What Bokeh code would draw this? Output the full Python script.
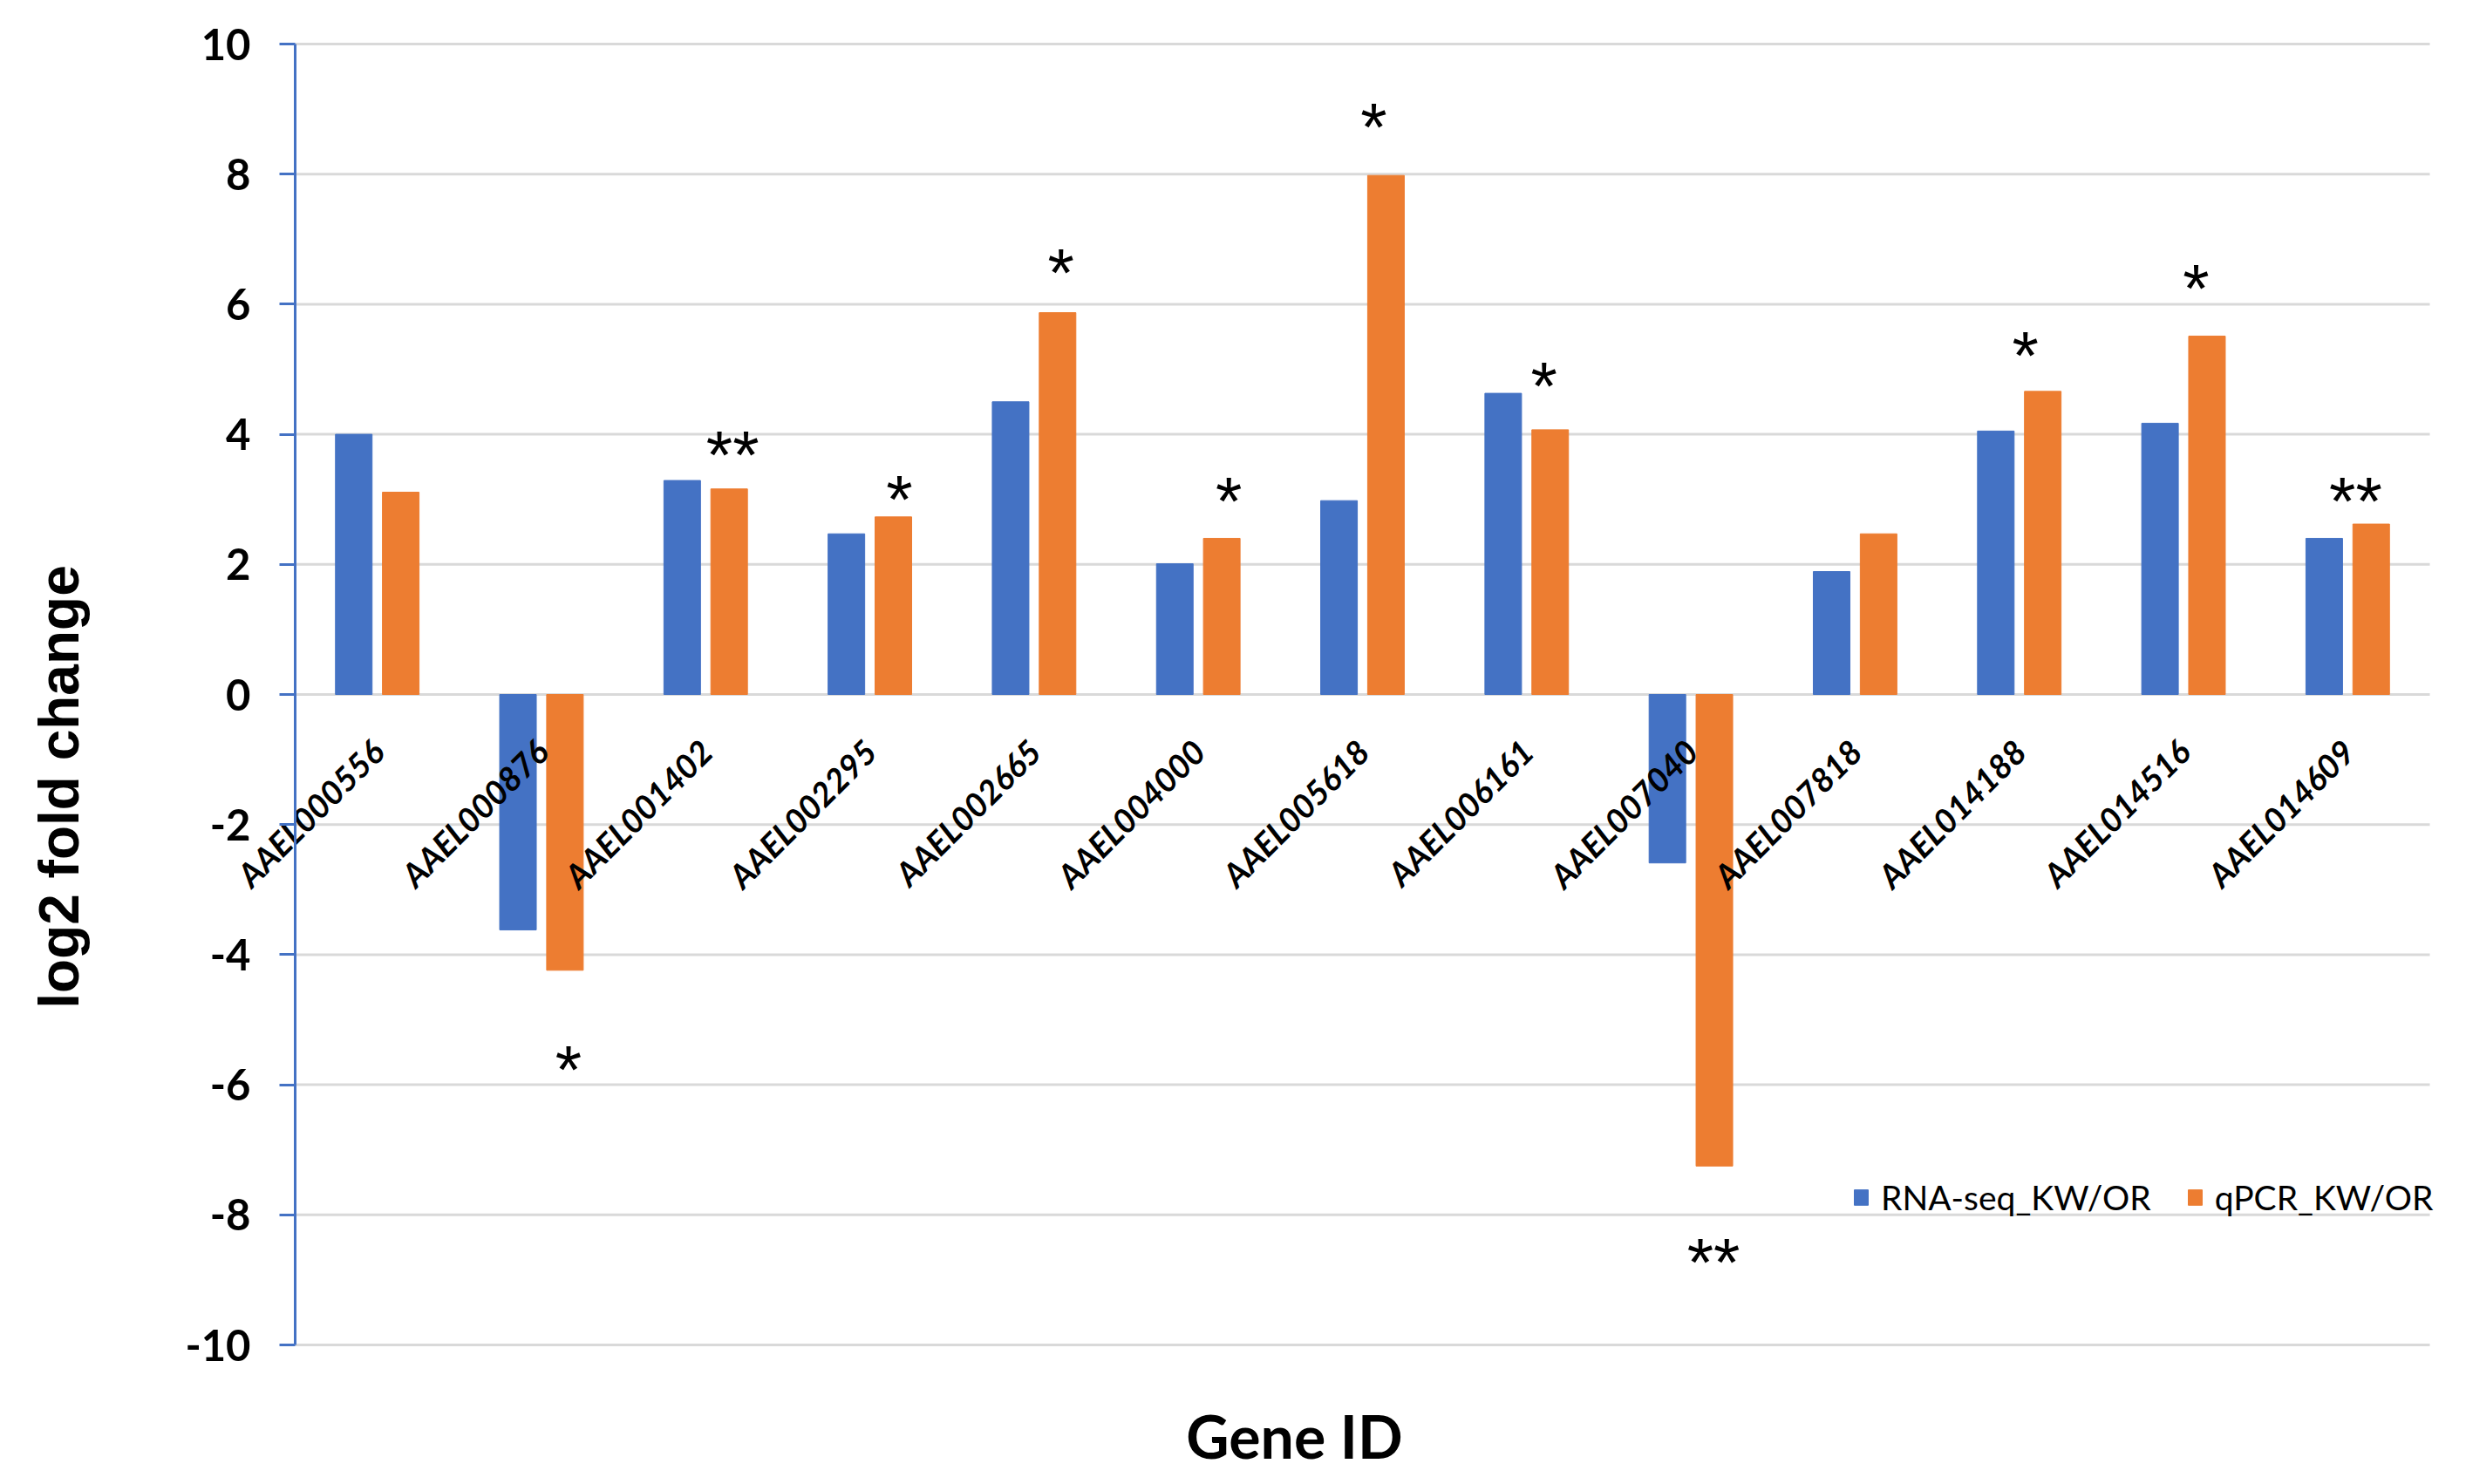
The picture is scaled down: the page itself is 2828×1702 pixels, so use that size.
import math
from bokeh.plotting import figure
from bokeh.models import (ColumnDataSource, FixedTicker, Legend, LegendItem, Label,
                          Range1d, LinearAxis)
from bokeh.transform import dodge
from bokeh.core.properties import value
from bokeh.embed import file_html
from bokeh.resources import INLINE

# ---------------- data ----------------
genes = ["AAEL000556", "AAEL000876", "AAEL001402", "AAEL002295", "AAEL002665",
         "AAEL004000", "AAEL005618", "AAEL006161", "AAEL007040", "AAEL007818",
         "AAEL014188", "AAEL014516", "AAEL014609"]
rnaseq = [4.00, -3.62, 3.29, 2.47, 4.50, 2.01, 2.98, 4.63, -2.59, 1.89, 4.05, 4.17, 2.40]
qpcr = [3.11, -4.24, 3.16, 2.73, 5.87, 2.40, 7.98, 4.07, -7.25, 2.47, 4.66, 5.51, 2.62]

star_genes = ["AAEL000876", "AAEL001402", "AAEL002295", "AAEL002665", "AAEL004000",
              "AAEL005618", "AAEL006161", "AAEL007040", "AAEL014188", "AAEL014516",
              "AAEL014609"]
star_text = ["*", "**", "*", "*", "*", "*", "*", "**", "*", "*", "**"]
star_y = [-5.63, 3.83, 3.14, 6.63, 3.11, 8.87, 4.89, -8.58, 5.36, 6.39, 3.11]
star_dx = [0.164, 0.164, 0.18, 0.164, 0.186, 0.069, 0.106, 0.138, 0.037, 0.077, 0.048]

y_ticks = [-10, -8, -6, -4, -2, 0, 2, 4, 6, 8, 10]

BLUE = "#4472C4"
ORANGE = "#ED7D31"
GRID = "#D9D9D9"
FONT = "Liberation Sans"
LFONT = "Lato"

# ---------------- layout (pixels) ----------------
W, H = 2812, 1686
N = len(genes)
PL, PR, PT, PB = 338, 2786, 50, 1542          # plot-area box inside the canvas
YMIN, YMAX = y_ticks[0], y_ticks[-1]
ux = (PR - PL) / N                             # px per category slot
uy = (PB - PT) / (YMAX - YMIN)                 # px per y unit

# the frame covers the whole canvas so no text is clipped; the plot area is
# the part of the data space between 0..N and YMIN..YMAX
x_range = Range1d(-PL / ux, N + (W - PR) / ux)
y_range = Range1d(YMIN - (H - PB) / uy, YMAX + PT / uy)

pos = [i + 0.5 for i in range(N)]
src = ColumnDataSource(dict(gene=genes, pos=pos, rna=rnaseq, qpcr=qpcr, zero=[0] * N))

p = figure(width=W, height=H, x_range=x_range, y_range=y_range,
           output_backend="svg", toolbar_location=None, tools="",
           min_border_left=0, min_border_right=0, min_border_top=0, min_border_bottom=0)
p.outline_line_color = None
p.background_fill_color = "white"
p.border_fill_color = "white"
p.xaxis.visible = False
p.yaxis.visible = False
p.xgrid.grid_line_color = None
p.ygrid.grid_line_color = None

# horizontal gridlines at the y ticks, spanning the plot area
gsrc = ColumnDataSource(dict(y=y_ticks, x0=[0] * len(y_ticks), x1=[N] * len(y_ticks)))
p.segment(x0="x0", x1="x1", y0="y", y1="y", source=gsrc, line_color=GRID, line_width=3)

# bars
r1 = p.vbar(x=dodge("pos", -0.143), top="rna", width=0.223, source=src,
            fill_color=BLUE, line_color=BLUE)
r2 = p.vbar(x=dodge("pos", 0.143), top="qpcr", width=0.223, source=src,
            fill_color=ORANGE, line_color=ORANGE)

# significance stars
star_x = [pos[genes.index(g)] + d for g, d in zip(star_genes, star_dx)]
ssrc = ColumnDataSource(dict(x=star_x, y=star_y, t=star_text))
p.text(x="x", y="y", text="t", source=ssrc, text_align="center", text_baseline="middle",
       y_offset=11, text_font=value(FONT), text_font_size="78px", text_color="black")

# category labels along the zero line
p.text(x="pos", y="zero", text="gene", source=src, angle=math.pi / 4,
       text_align="right", text_baseline="top", x_offset=-16, y_offset=42,
       text_font=value(LFONT), text_font_style="bold italic", text_font_size="38px",
       text_color="black")

# y axis at x = 0
yaxis = LinearAxis(fixed_location=0, bounds=(YMIN, YMAX),
                   ticker=FixedTicker(ticks=y_ticks),
                   major_label_overrides={t: str(t) for t in y_ticks},
                   minor_tick_line_color=None,
                   axis_line_color=BLUE, axis_line_width=3,
                   major_tick_line_color=BLUE, major_tick_line_width=3,
                   major_tick_out=18, major_tick_in=0, major_label_standoff=33,
                   major_label_text_font=LFONT, major_label_text_font_style="bold",
                   major_label_text_font_size="49px", major_label_text_color="black")
p.add_layout(yaxis, "left")

# axis titles
ytitle = Label(x=67, y=H - 902, x_units="screen", y_units="screen", text="log2 fold change",
               angle=math.pi / 2, text_align="center", text_baseline="middle",
               text_font=FONT, text_font_style="bold", text_font_size="64px",
               text_color="black")
p.add_layout(ytitle)
xtitle = Label(x=1484, y=H - 1646, x_units="screen", y_units="screen", text="Gene ID",
               text_align="center", text_baseline="middle",
               text_font=LFONT, text_font_style="bold", text_font_size="68px",
               text_color="black")
p.add_layout(xtitle)

# legend
legend = Legend(items=[LegendItem(label="RNA-seq_KW/OR", renderers=[r1]),
                       LegendItem(label="qPCR_KW/OR", renderers=[r2])],
                location=(2124, H - PB + 146), orientation="horizontal",
                glyph_width=20, glyph_height=22, label_standoff=13, spacing=40,
                padding=0, margin=0, border_line_color=None, background_fill_alpha=0,
                label_text_font=LFONT, label_text_font_size="39px", label_text_color="black")
p.add_layout(legend, "center")

open("out.html", "w").write(file_html(p, INLINE))
